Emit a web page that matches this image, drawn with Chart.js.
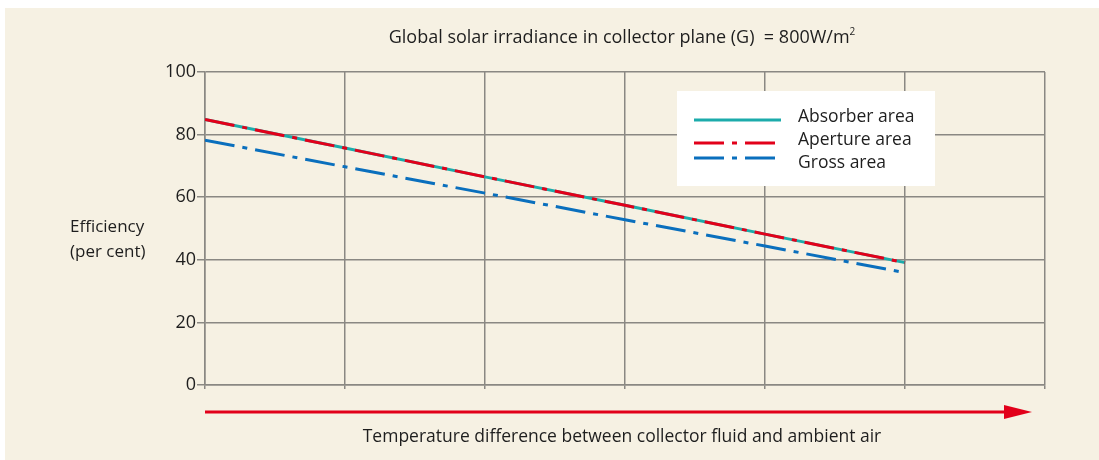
<!DOCTYPE html>
<html>
<head>
<meta charset="utf-8">
<script src="https://cdn.jsdelivr.net/npm/chart.js@4.4.1/dist/chart.umd.min.js"></script>
<style>
  html, body { margin: 0; padding: 0; background: #fff; overflow: hidden; }
  #wrap { width: 1099px; height: 460px; position: relative; }
</style>
</head>
<body>
<div id="wrap"><canvas id="effChart"></canvas></div>
<script>
// x positions are the gridline index (the axis has no tick labels)
const xPositions = [0, 1, 2, 3, 4, 5];
const absorberValues = [84.8, 75.7, 66.5, 57.4, 48.2, 39.1];
const apertureValues = [84.8, 75.7, 66.5, 57.4, 48.2, 39.1];
const grossValues = [78.2, 69.7, 61.3, 52.8, 44.4, 35.9];
const yTicks = [0, 20, 40, 60, 80, 100];
const seriesNames = ['Absorber area', 'Aperture area', 'Gross area'];

const FONT = '"Open Sans", "Noto Sans", sans-serif';
const TEXT = '#1e1e1e';
const GRID = '#8a8883';

function toPoints(vals) {
	return xPositions.map((x, i) => ({ x: x, y: vals[i] }));
}

const decorPlugin = {
	id: 'decor',
	beforeDraw(chart) {
		const ctx = chart.ctx;
		ctx.save();
		ctx.fillStyle = '#ffffff';
		ctx.fillRect(0, 0, chart.width, chart.height);
		ctx.fillStyle = '#f6f1e3';
		ctx.fillRect(5, 8, chart.width, chart.height);
		ctx.restore();
	},
	afterDraw(chart) {
		const ctx = chart.ctx;
		const area = chart.chartArea;
		const midX = (area.left + area.right) / 2 - 3;
		ctx.save();

		// title with superscript
		ctx.fillStyle = TEXT;
		ctx.textBaseline = 'middle';
		const main = 'Global solar irradiance in collector plane (G)  = 800W/m';
		ctx.font = '10px ' + FONT;
		const supW = ctx.measureText('2').width;
		ctx.font = '18px ' + FONT;
		const mainW = ctx.measureText(main).width;
		let tx = midX - (mainW + supW) / 2;
		ctx.textAlign = 'left';
		ctx.fillText(main, tx, 38);
		ctx.font = '10px ' + FONT;
		ctx.fillText('2', tx + mainW, 32);

		// y axis label
		ctx.font = '17px ' + FONT;
		ctx.fillText('Efficiency', 70, 227);
		ctx.fillText('(per cent)', 70, 252);

		// x axis arrow
		const ay = 412;
		const tip = area.right - 13;
		ctx.strokeStyle = '#e2001a';
		ctx.fillStyle = '#e2001a';
		ctx.lineWidth = 3;
		ctx.beginPath();
		ctx.moveTo(area.left, ay);
		ctx.lineTo(tip - 26, ay);
		ctx.stroke();
		ctx.beginPath();
		ctx.moveTo(tip - 28, ay - 7);
		ctx.lineTo(tip, ay);
		ctx.lineTo(tip - 28, ay + 7);
		ctx.closePath();
		ctx.fill();

		// x axis label
		ctx.fillStyle = TEXT;
		ctx.textAlign = 'center';
		ctx.font = '17.5px ' + FONT;
		ctx.fillText('Temperature difference between collector fluid and ambient air', midX, 437);

		// legend box
		ctx.fillStyle = '#ffffff';
		ctx.fillRect(677, 91, 258, 95);
		const lineYs = [120, 143, 158];
		const textYs = [117, 140, 163];
		chart.data.datasets.forEach((ds, i) => {
			ctx.strokeStyle = ds.borderColor;
			ctx.lineWidth = 3;
			ctx.setLineDash(ds.borderDash || []);
			ctx.beginPath();
			ctx.moveTo(694, lineYs[i]);
			ctx.lineTo(781, lineYs[i]);
			ctx.stroke();
			ctx.setLineDash([]);
			ctx.fillStyle = TEXT;
			ctx.textAlign = 'left';
			ctx.font = '17.5px ' + FONT;
			ctx.fillText(ds.label, 798, textYs[i]);
		});
		ctx.restore();
	}
};

const ctx = document.getElementById('effChart').getContext('2d');

new Chart(ctx, {
	type: 'line',
	data: {
		datasets: [
			{
				label: seriesNames[0],
				data: toPoints(absorberValues),
				borderColor: '#1cabab',
				borderWidth: 3,
				pointRadius: 0,
				order: 1
			},
			{
				label: seriesNames[1],
				data: toPoints(apertureValues),
				borderColor: '#e2001a',
				borderWidth: 3,
				borderDash: [30, 8, 5, 8],
				pointRadius: 0,
				order: 0
			},
			{
				label: seriesNames[2],
				data: toPoints(grossValues),
				borderColor: '#0a6fbd',
				borderWidth: 3,
				borderDash: [30, 8, 5, 8],
				pointRadius: 0,
				order: 2
			}
		]
	},
	options: {
		responsive: true,
		maintainAspectRatio: false,
		animation: false,
		layout: { padding: { top: 72, right: 54, left: 0, bottom: 0 } },
		plugins: {
			legend: { display: false },
			tooltip: { enabled: false },
			title: { display: false }
		},
		scales: {
			x: {
				type: 'linear',
				min: 0,
				max: 6,
				ticks: { display: false, stepSize: 1 },
				grid: { color: GRID, lineWidth: 1.5, tickLength: 4 },
				border: { color: GRID, width: 1.5 },
				afterFit: (scale) => { scale.height = 75; }
			},
			y: {
				min: 0,
				max: 100,
				afterBuildTicks: (scale) => { scale.ticks = yTicks.map(v => ({ value: v })); },
				ticks: {
					color: TEXT,
					padding: 1,
					font: { family: FONT, size: 18 }
				},
				grid: { color: GRID, lineWidth: 1.5, tickLength: 8 },
				border: { color: GRID, width: 1.5 },
				afterFit: (scale) => { scale.width = 205; }
			}
		}
	},
	plugins: [decorPlugin]
});
</script>
</body>
</html>
